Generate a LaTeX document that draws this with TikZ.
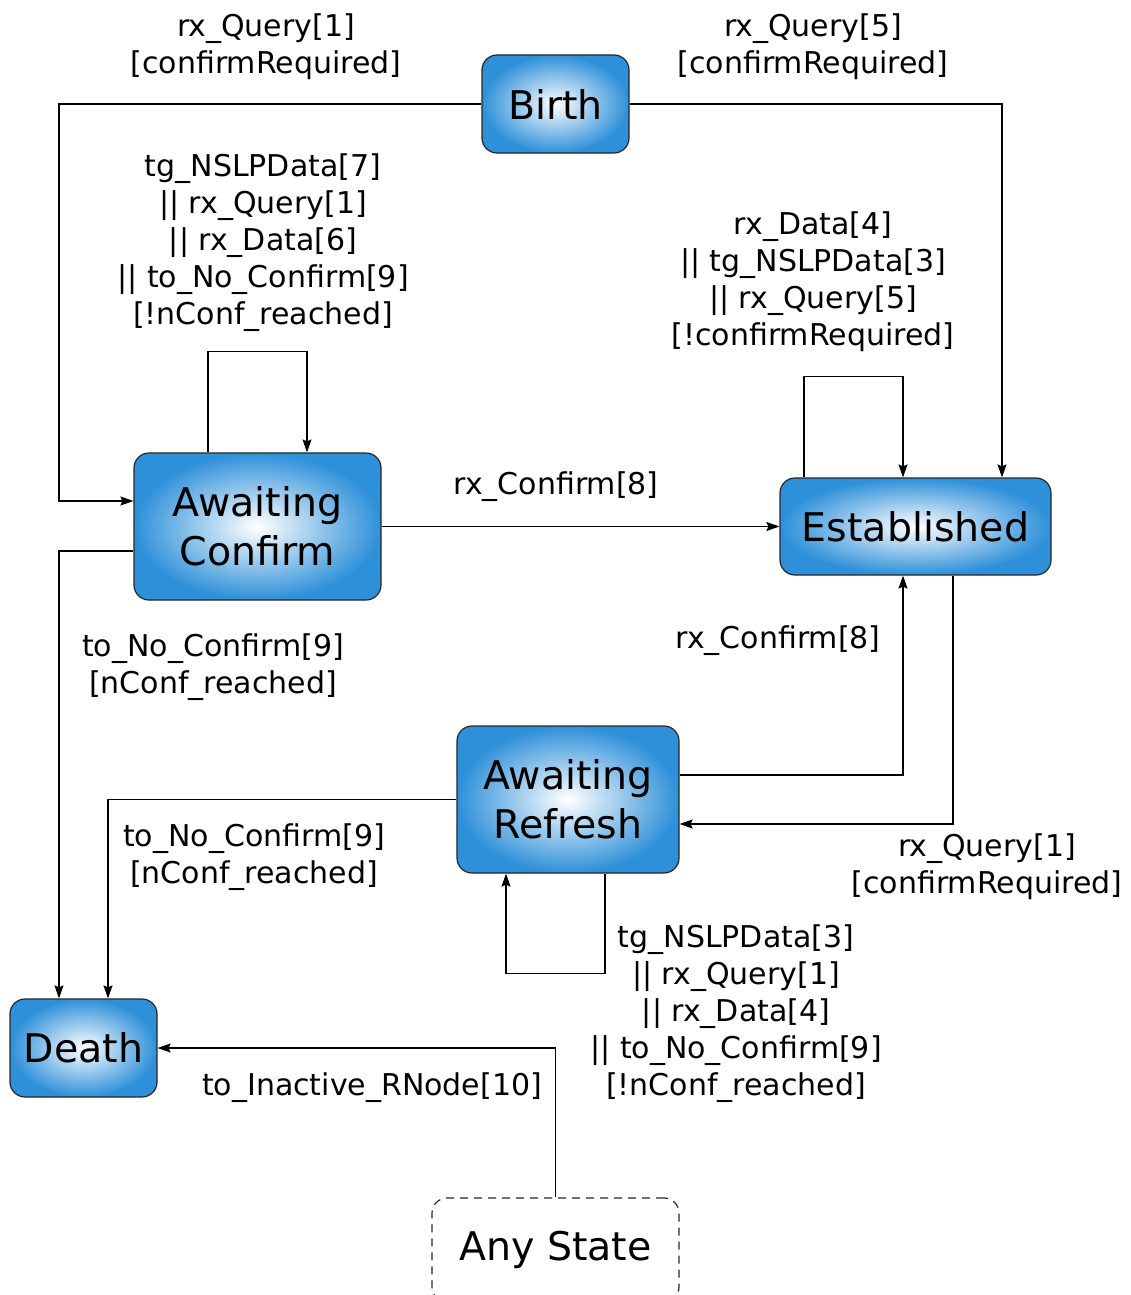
\documentclass[tikz,border=0pt]{standalone}
\usepackage{fontspec}
\setmainfont{DejaVu Sans}
\usetikzlibrary{arrows.meta}
\definecolor{stblue}{RGB}{46,144,217}
\begin{document}
\begin{tikzpicture}[x=1pt,y=-1pt,
  state/.style={draw=black!85,line width=1.2pt,rounded corners=15pt,inner color=white,outer color=stblue,
    align=center,font=\fontsize{39.5}{49}\selectfont,inner sep=0pt},
  anystate/.style={draw=black!85,line width=1.2pt,rounded corners=15pt,dash pattern=on 8pt off 6pt,
    align=center,font=\fontsize{39.5}{49}\selectfont,inner sep=0pt},
  lbl/.style={align=center,font=\fontsize{30}{37}\selectfont,inner sep=0pt},
  arr/.style={line width=1.1pt,-{Stealth[length=13pt,width=9pt,inset=2pt]}}]
\useasboundingbox (0,0) rectangle (1130,1295);
\node[state,minimum width=147pt,minimum height=98pt] (birth) at (555.5,104) {Birth};
\node[state,minimum width=247pt,minimum height=147pt] (ac) at (257.5,526.5) {Awaiting\\Confirm};
\node[state,minimum width=271pt,minimum height=97pt] (est) at (915.5,526.5) {Established};
\node[state,minimum width=222pt,minimum height=147pt] (ar) at (568,799.5) {Awaiting\\Refresh};
\node[state,minimum width=147pt,minimum height=98pt] (death) at (83.5,1048) {Death};
\node[anystate,minimum width=247pt,minimum height=104pt] (any) at (555.5,1250) {Any State};
% edges
\draw[arr] (birth.west) -- (59,104) |- ([yshift=25.5pt]ac.west);
\draw[arr] (birth.east) -| ([xshift=86.5pt]est.north);
\draw[arr] ([xshift=-49.5pt]ac.north) -- ++(0,-101) -| ([xshift=49.5pt]ac.north);
\draw[arr] (ac.east) -- (est.west);
\draw[arr] ([xshift=-111.5pt]est.north) -- ++(0,-101) -| ([xshift=-12.5pt]est.north);
\draw[arr] ([yshift=-24.5pt]ac.west) -| ([xshift=-24.5pt]death.north);
\draw[arr] ([yshift=24.5pt]ar.east) -| ([xshift=-12.5pt]est.south);
\draw[arr] ([xshift=37.5pt]est.south) |- ([yshift=-24.5pt]ar.east);
\draw[arr] (ar.west) -| ([xshift=24.5pt]death.north);
\draw[arr] ([xshift=37pt]ar.south) -- ++(0,100) -| ([xshift=-62pt]ar.south);
\draw[arr] (any.north) |- (death.east);
% labels
\node[lbl] (l1) at (266,47) {rx\_Query[1]\\{}[confirmRequired]};
\node[lbl] (l2) at (813,47) {rx\_Query[5]\\{}[confirmRequired]};
\node[lbl] (l3) at (263,243) {tg\_NSLPData[7]\\|| rx\_Query[1]\\|| rx\_Data[6]\\|| to\_No\_Confirm[9]\\{}[!nConf\_reached]};
\node[lbl] (l4) at (556,487) {rx\_Confirm[8]};
\node[lbl] (l5) at (813,282) {rx\_Data[4]\\|| tg\_NSLPData[3]\\|| rx\_Query[5]\\{}[!confirmRequired]};
\node[lbl] (l6) at (213,667.5) {to\_No\_Confirm[9]\\{}[nConf\_reached]};
\node[lbl] (l7) at (778,641) {rx\_Confirm[8]};
\node[lbl] (l8) at (987,866.5) {rx\_Query[1]\\{}[confirmRequired]};
\node[lbl] (l9) at (254,857.5) {to\_No\_Confirm[9]\\{}[nConf\_reached]};
\node[lbl] (l10) at (736,1013.5) {tg\_NSLPData[3]\\|| rx\_Query[1]\\|| rx\_Data[4]\\|| to\_No\_Confirm[9]\\{}[!nConf\_reached]};
\node[lbl] (l11) at (372,1088) {to\_Inactive\_RNode[10]};
\end{tikzpicture}
\end{document}
